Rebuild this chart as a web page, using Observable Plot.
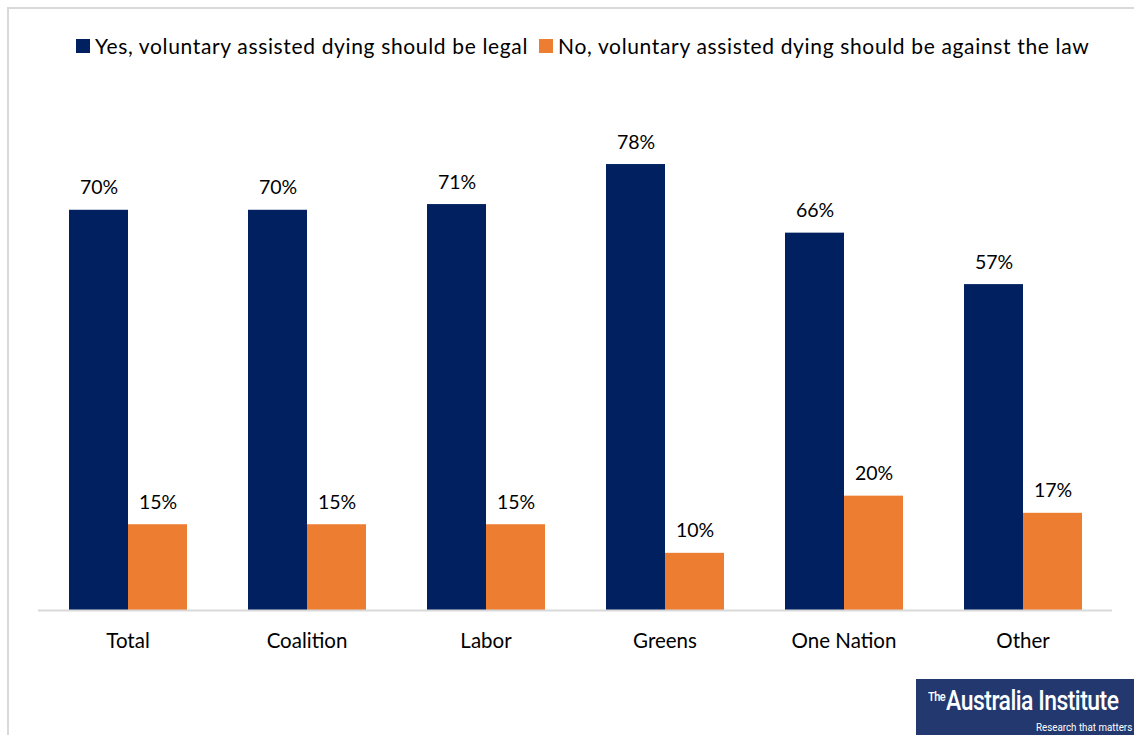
<!DOCTYPE html>
<html>
<head>
<meta charset="utf-8">
<script src="https://cdn.jsdelivr.net/npm/d3@7"></script>
<script src="https://cdn.jsdelivr.net/npm/@observablehq/plot@0.6"></script>
<style>
  html, body { margin: 0; padding: 0; background: #fff; }
  #page { position: relative; width: 1134px; height: 735px; overflow: hidden; font-family: Lato, "Open Sans", sans-serif; color: #000; }
  #frame { position: absolute; left: 7px; top: 7px; width: 1200px; height: 800px; border-left: 2px solid #d9d9d9; border-top: 2px solid #d9d9d9; }
  #legend { position: relative; height: 70px; display: flex; align-items: flex-start; padding-top: 33px; box-sizing: border-box; font-size: 21px; letter-spacing: 0.65px; }
  .item { display: flex; align-items: center; white-space: nowrap; }
  .swatch { width: 14px; height: 14px; margin-right: 5px; }
  #chart { position: relative; }
  #logo { position: absolute; left: 916px; top: 679px; width: 218px; height: 56px; background: #22386f; color: #fff; overflow: hidden; }
  #logo .name { position: absolute; left: 12px; top: 6px; font-family: Roboto, "DejaVu Sans", sans-serif; font-weight: 500; font-size: 27px; letter-spacing: -0.6px; white-space: nowrap; transform: scaleX(0.85); transform-origin: left top; }
  #logo .name sup { font-size: 13px; vertical-align: 9px; margin-right: 1px; }
  #logo .tag { position: absolute; right: 2px; bottom: 1px; font-family: Roboto, "DejaVu Sans", sans-serif; font-size: 11.5px; white-space: nowrap; transform: scaleX(0.85); transform-origin: right bottom; }
</style>
</head>
<body>
<div id="page">
  <div id="frame"></div>
  <div id="legend"></div>
  <div id="chart"></div>
  <div id="logo"><span class="name"><sup>The</sup>Australia Institute</span><span class="tag">Research that matters</span></div>
</div>
<script>
// Voting intention groups and the share of each answer (%)
const parties = ["Total", "Coalition", "Labor", "Greens", "One Nation", "Other"];
const seriesNames = [
  "Yes, voluntary assisted dying should be legal",
  "No, voluntary assisted dying should be against the law"
];
const yesValues = [70, 70, 71, 78, 66, 57];
const noValues = [15, 15, 15, 10, 20, 17];
const seriesColors = ["#002060", "#ed7d31"];

const rows = [];
parties.forEach((p, i) => {
  rows.push({party: p, series: seriesNames[0], value: yesValues[i]});
  rows.push({party: p, series: seriesNames[1], value: noValues[i]});
});

// Legend
const legend = document.getElementById("legend");
legend.style.paddingLeft = "76px";
seriesNames.forEach((name, i) => {
  const item = document.createElement("div");
  item.className = "item";
  item.style.marginRight = i === 0 ? "11px" : "0";
  const sw = document.createElement("span");
  sw.className = "swatch";
  sw.style.background = seriesColors[i];
  const label = document.createElement("span");
  label.textContent = name;
  item.append(sw, label);
  legend.append(item);
});

const chart = Plot.plot({
  width: 1134,
  height: 665,
  marginLeft: 37,
  marginRight: 21,
  marginTop: 82.6,
  marginBottom: 125,
  style: {fontFamily: "Lato, 'Open Sans', sans-serif", fontSize: "20.5px", background: "transparent", color: "#000"},
  fx: {domain: parties, paddingInner: 0, paddingOuter: 0, label: null, axis: null},
  x: {domain: seriesNames, paddingInner: 0, paddingOuter: 0.494, axis: null},
  y: {domain: [0, 80], axis: null},
  color: {domain: seriesNames, range: seriesColors},
  marks: [
    Plot.barY(rows, {fx: "party", x: "series", y: "value", fill: "series"}),
    Plot.ruleY([0], {stroke: "#d9d9d9", strokeWidth: 2}),
    Plot.text(rows, {fx: "party", x: "series", y: "value", text: d => d.value + "%", lineAnchor: "bottom", dy: -16, fontSize: 19.5, fill: "#000"}),
    Plot.axisFx({anchor: "bottom", tickSize: 0, tickPadding: 23, fontSize: 20.5, label: null, fill: "#000"})
  ]
});
document.getElementById("chart").append(chart);
</script>
</body>
</html>
